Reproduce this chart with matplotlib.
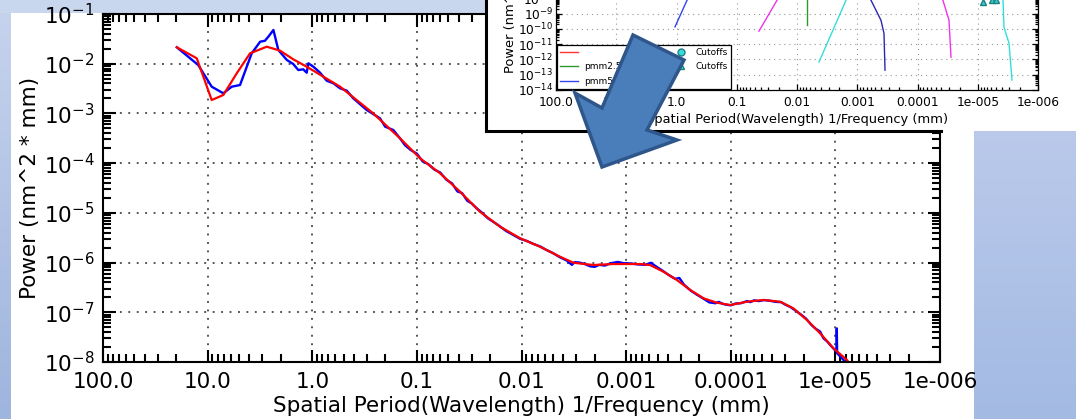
import matplotlib
matplotlib.use("Agg")
import matplotlib.pyplot as plt
import numpy as np
from matplotlib.lines import Line2D
from matplotlib.patches import Polygon
from matplotlib.ticker import LogLocator, NullFormatter

W, H = 1076, 419

# main chart: fitted curve (red)
fit_period = [19.7, 12.7, 9.14, 7.08, 5.27, 3.93, 2.72, 2.03, 1.52, 1.13, 0.542, 0.261,
              0.145, 0.0931, 0.0600, 0.0386, 0.0249, 0.0160, 0.0103, 6.64e-3, 4.28e-3,
              3.19e-3, 2.06e-3, 1.32e-3, 7.35e-4, 5.90e-4, 4.40e-4, 3.27e-4, 2.44e-4,
              1.82e-4, 1.36e-4, 1.01e-4, 7.02e-5, 4.86e-5, 3.37e-5, 2.52e-5, 1.87e-5,
              1.40e-5, 1.04e-5, 7.76e-6, 6.9e-6]
fit_power = [0.0214, 0.01285, 0.00186, 0.00235, 0.00641, 0.0162, 0.0220, 0.0183, 0.01227,
             0.00871, 0.00345, 1.00e-3, 3.16e-4, 1.25e-4, 6.24e-5, 2.66e-5, 1.05e-5,
             5.26e-6, 3.08e-6, 2.08e-6, 1.31e-6, 9.93e-7, 8.93e-7, 9.35e-7, 9.35e-7,
             8.93e-7, 6.55e-7, 4.46e-7, 2.81e-7, 1.91e-7, 1.56e-7, 1.40e-7, 1.63e-7,
             1.77e-7, 1.63e-7, 1.20e-7, 6.99e-8, 3.78e-8, 1.88e-8, 1.10e-8, 8e-9]

# main chart: measured PSD (blue)
psd_period = [19.7, 12.3, 9.14, 7.08, 5.88, 4.90, 3.79, 3.15, 2.83, 2.63, 2.35, 2.11, 1.75,
              1.52, 1.36, 1.22, 1.13, 1.09, 0.976, 0.842, 0.727, 0.628, 0.542, 0.468,
              0.405, 0.301, 0.225, 0.201, 0.168, 0.145, 0.13, 0.115, 0.10, 0.088, 0.078,
              0.068, 0.060, 0.052, 0.046, 0.041, 0.037, 0.033, 0.030, 0.027, 0.024, 0.021,
              0.018, 0.016, 0.014, 0.012, 0.0103, 0.009, 0.0078, 0.0066, 0.0058, 0.005,
              0.0043, 0.0037, 0.0033, 0.0031, 0.0028, 0.0025, 0.0022, 0.0020, 0.0018,
              0.0016, 0.0014, 0.0012, 0.00105, 0.0009, 0.00078, 0.00066, 0.00058, 0.00052,
              0.00045, 0.00039, 0.00034, 0.00031, 0.00028, 0.00024, 0.00021, 0.00018,
              0.00016, 0.00014, 0.00013, 0.00012, 0.00011, 0.0001, 9e-5, 8e-5, 7e-5,
              6.5e-5, 6e-5, 5.4e-5, 4.8e-5, 4.2e-5, 3.7e-5, 3.3e-5, 3.0e-5, 2.7e-5, 2.4e-5,
              2.1e-5, 1.9e-5, 1.7e-5, 1.55e-5, 1.4e-5, 1.3e-5, 1.2e-5, 1.1e-5, 1.0e-5,
              9.75e-6, 9.7e-6, 9.62e-6, 9.0e-6, 8.3e-6, 7.8e-6, 7.2e-6]
psd_power = [0.0214, 0.00942, 0.00345, 0.00254, 0.00345, 0.00373, 0.0162, 0.0277, 0.0290,
             0.0349, 0.0477, 0.0189, 0.0119, 0.00987, 0.00747, 0.00772, 0.00659, 0.0102,
             0.00871, 0.00659, 0.00455, 0.00404, 0.00320, 0.00287, 0.00201, 0.00117,
             7.98e-4, 5.41e-4, 4.64e-4, 3.16e-4, 2.3e-4, 1.85e-4, 1.55e-4, 1.08e-4, 9.6e-5,
             7.4e-5, 6.5e-5, 4.6e-5, 3.9e-5, 2.7e-5, 2.5e-5, 1.75e-5, 1.55e-5, 1.25e-5,
             1.02e-5, 7.8e-6, 6.3e-6, 5.3e-6, 4.3e-6, 3.6e-6, 3.0e-6, 2.75e-6, 2.4e-6,
             2.1e-6, 1.8e-6, 1.55e-6, 1.28e-6, 1.1e-6, 9.0e-7, 1.02e-6, 1.0e-6, 9.4e-7,
             8.4e-7, 8.2e-7, 9.0e-7, 8.7e-7, 9.7e-7, 1.03e-6, 9.7e-7, 9.6e-7, 9.2e-7,
             9.0e-7, 9.9e-7, 8.4e-7, 6.9e-7, 5.6e-7, 4.7e-7, 4.9e-7, 3.6e-7, 2.7e-7,
             2.25e-7, 1.85e-7, 1.58e-7, 1.52e-7, 1.62e-7, 1.48e-7, 1.42e-7, 1.38e-7, 1.5e-7,
             1.52e-7, 1.68e-7, 1.6e-7, 1.74e-7, 1.68e-7, 1.76e-7, 1.7e-7, 1.62e-7, 1.6e-7,
             1.42e-7, 1.28e-7, 1.08e-7, 8.8e-8, 7.4e-8, 5.6e-8, 4.7e-8, 4.1e-8, 3.0e-8,
             2.6e-8, 2.1e-8, 1.7e-8, 1.6e-8, 4.75e-8, 1.5e-8, 1.3e-8, 1.08e-8, 9e-9, 7e-9]

x_ticks = [100, 10, 1, 0.1, 0.01, 0.001, 1e-4, 1e-5, 1e-6]
x_tick_labels = ["100.0", "10.0", "1.0", "0.1", "0.01", "0.001", "0.0001", "1e-005", "1e-006"]

# inset (pasted screenshot of the cutoff plot)
inset_blue_x = [1.06, 0.67, 0.47]
inset_blue_y = [1.35e-10, 7.4e-9, 1.5e-7]
inset_magenta1_x = [0.0428, 0.0215, 0.0136]
inset_magenta1_y = [7.1e-11, 7.4e-9, 1.5e-7]
inset_green_x = [0.00682, 0.00682]
inset_green_y = [1.74e-10, 1e-6]
inset_cyan1_x = [0.00431, 0.00154, 0.00109]
inset_cyan1_y = [6.8e-13, 7.4e-9, 1.5e-7]
inset_navy_x = [3.46e-4, 3.6e-4, 4.04e-4, 5.9e-4, 9.0e-4]
inset_navy_y = [2.0e-13, 5.2e-11, 3.7e-10, 7.4e-9, 1.5e-7]
inset_magenta2_x = [2.78e-5, 3.0e-5, 3.78e-5, 5.1e-5]
inset_magenta2_y = [1.4e-12, 3.7e-10, 7.4e-9, 1.5e-7]
inset_cyan2_x = [2.7e-6, 3.03e-6, 3.67e-6, 3.81e-6, 3.81e-6]
inset_cyan2_y = [4.5e-14, 1.17e-11, 1.29e-10, 7.4e-9, 1.5e-7]
cutoff_x = [8.2e-6, 5.8e-6, 5.0e-6]
cutoff_y = [5.5e-9, 8e-9, 8e-9]
legend_labels = ["", "pmm2.5", "pmm5", "Cutoffs", "Cutoffs"]


def box(x0, y0, x1, y1):
    return [x0 / W, 1 - y1 / H, (x1 - x0) / W, (y1 - y0) / H]


def style_axes(ax, size, major, minor, lw, grid_color):
    ax.set_xscale("log")
    ax.set_yscale("log")
    ax.set_xticks(x_ticks)
    ax.set_xticklabels(x_tick_labels)
    ax.xaxis.set_minor_locator(LogLocator(base=10, subs=np.arange(2, 10), numticks=30))
    ax.xaxis.set_minor_formatter(NullFormatter())
    ax.yaxis.set_major_locator(LogLocator(base=10, numticks=30))
    ax.yaxis.set_minor_locator(LogLocator(base=10, subs=np.arange(2, 10), numticks=30))
    ax.yaxis.set_minor_formatter(NullFormatter())
    ax.tick_params(which="both", direction="in", top=True, right=True,
                   labelsize=size, width=lw)
    ax.tick_params(which="major", length=major)
    ax.tick_params(which="minor", length=minor)
    for s in ax.spines.values():
        s.set_linewidth(lw)
    ax.grid(True, which="major", linestyle=(0, (1, 3.5)), color=grid_color, lw=lw * 0.9)


fig = plt.figure(figsize=(W / 100, H / 100), dpi=100)
fig.patch.set_facecolor("white")

# slide background strips
bg = fig.add_axes([0, 0, 1, 1], zorder=-10)
t = np.linspace(0, 1, 100).reshape(-1, 1, 1)
left_grad = np.array([0.78, 0.83, 0.93]) + t * (np.array([0.62, 0.71, 0.87]) - np.array([0.78, 0.83, 0.93]))
right_grad = np.array([0.73, 0.79, 0.92]) + t * (np.array([0.64, 0.73, 0.89]) - np.array([0.73, 0.79, 0.92]))
bg.imshow(left_grad, extent=(0, 11, H, 0), aspect="auto", origin="upper")
bg.imshow(right_grad, extent=(974, W, H, 131), aspect="auto", origin="upper")
bg.fill_between([0, 486], 0, 13, color="#c8d6ee", lw=0)
bg.set_xlim(0, W)
bg.set_ylim(H, 0)
bg.axis("off")

# main chart
ax = fig.add_axes(box(103, 14, 940, 362), zorder=0)
ax.plot(psd_period, psd_power, color="#0000ff", lw=1.7)
ax.plot(fit_period, fit_power, color="#ff0000", lw=1.6)
style_axes(ax, 15.5, 9, 5.5, 1.5, "0.3")
ax.set_xlim(100, 1e-6)
ax.set_ylim(1e-8, 1e-1)
ax.tick_params(axis="y", pad=6)
ax.tick_params(axis="x", pad=7)
ax.set_xlabel("Spatial Period(Wavelength) 1/Frequency (mm)", fontsize=15.5, labelpad=3)
ax.set_ylabel("Power (nm^2 * mm)", fontsize=15.5, labelpad=3)

# inset backdrop
ib = fig.add_axes(box(486, 0, W, 131), zorder=1)
ib.set_xlim(486, W)
ib.set_ylim(131, 0)
ib.set_xticks([])
ib.set_yticks([])
for s in ib.spines.values():
    s.set_visible(False)
ib.plot([486, 486], [0, 131], color="black", lw=2.2, clip_on=False)
ib.plot([486, 941], [131, 131], color="black", lw=2.2, clip_on=False)

# inset chart
ins = fig.add_axes(box(556, -78, 1038, 90), zorder=2)
ins.plot(inset_blue_x, inset_blue_y, color="#3344ee", lw=1.0)
ins.plot(inset_magenta1_x, inset_magenta1_y, color="#ee33ee", lw=1.0)
ins.plot(inset_green_x, inset_green_y, color="#2e9a2e", lw=1.0)
ins.plot(inset_cyan1_x, inset_cyan1_y, color="#33dddd", lw=1.0)
ins.plot(inset_navy_x, inset_navy_y, color="#2828b0", lw=1.0)
ins.plot(inset_magenta2_x, inset_magenta2_y, color="#ee33ee", lw=1.0)
ins.plot(inset_cyan2_x, inset_cyan2_y, color="#33dddd", lw=1.0)
ins.plot(cutoff_x, cutoff_y, "^", color="#33cccc", mec="#208080", ms=5)
style_axes(ins, 8.8, 4, 2.5, 0.9, "0.6")
ins.set_xlim(100, 1e-6)
ins.set_ylim(1e-14, 1e-3)
ins.tick_params(axis="x", pad=4)
ins.tick_params(axis="y", pad=2)
ins.set_xlabel("Spatial Period(Wavelength) 1/Frequency (mm)", fontsize=9.4, labelpad=3)
ins.set_ylabel("Power (nm^2 * mm)", fontsize=9.4, labelpad=1)
handles = [
    Line2D([], [], color="#ff3333", lw=1.0),
    Line2D([], [], color="#2e9a2e", lw=1.0),
    Line2D([], [], color="#3344ee", lw=1.0),
    Line2D([], [], ls="none", marker="o", color="#33dddd", mec="#208080", ms=5),
    Line2D([], [], ls="none", marker="^", color="#33dddd", mec="#208080", ms=5),
]
leg = ins.legend(handles, legend_labels, ncol=2, fontsize=6.5, loc="lower left",
                 bbox_to_anchor=(557 / W, 1 - 89 / H), bbox_transform=fig.transFigure,
                 borderaxespad=0, fancybox=False, framealpha=1, handlelength=2.0,
                 labelspacing=0.6, columnspacing=5.6, borderpad=0.35, handletextpad=0.6)
leg.get_frame().set_edgecolor("black")
leg.get_frame().set_linewidth(0.9)

# big arrow pasted on the slide
ov = fig.add_axes([0, 0, 1, 1], zorder=3)
ov.set_xlim(0, W)
ov.set_ylim(H, 0)
ov.axis("off")
arrow_pts = [(633, 35), (684, 60), (647, 130), (677, 140), (602, 167), (575, 93), (602, 108)]
ov.add_patch(Polygon(arrow_pts, closed=True, facecolor="#4a7ebb", edgecolor="#2f568a",
                     lw=2.5, joinstyle="miter"))

fig.savefig("out.png", dpi=100)
